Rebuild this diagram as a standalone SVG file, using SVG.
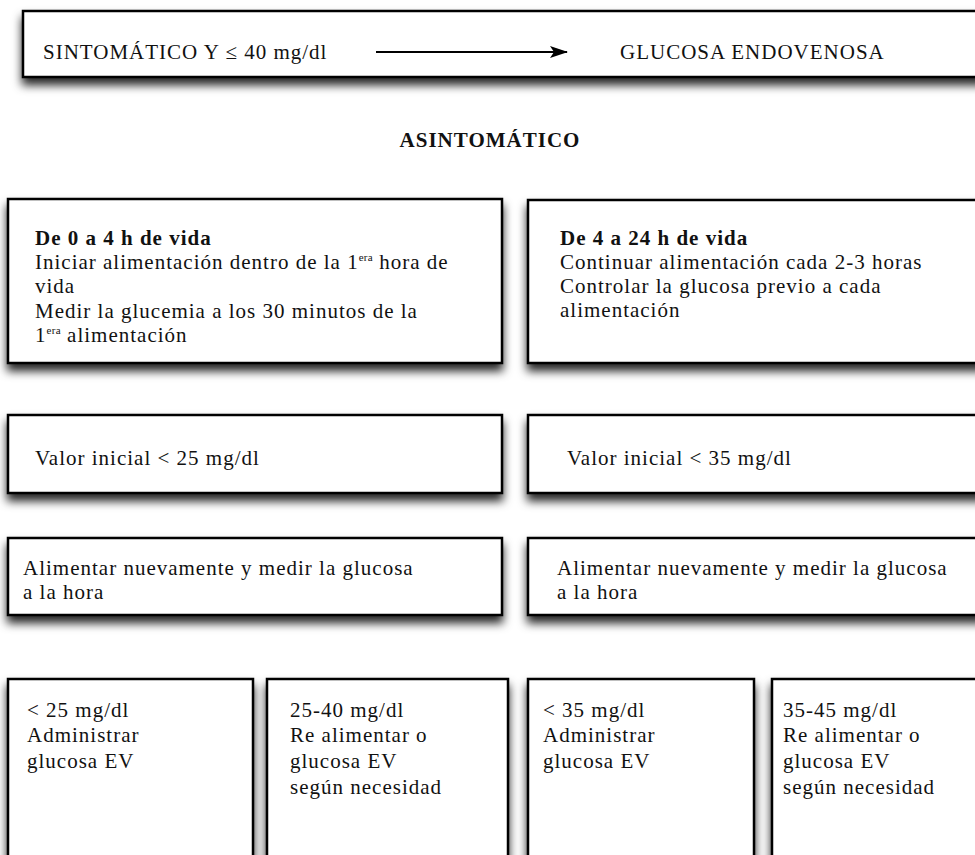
<svg xmlns="http://www.w3.org/2000/svg" width="975" height="855" viewBox="0 0 975 855">
<style>
  .box { fill: #fff; stroke: #000; stroke-width: 2.5; filter: url(#sh); }
  text { font-family: "Liberation Serif", "DejaVu Serif", serif; font-size: 21px; letter-spacing: 1px; fill: #111; }
  .b { font-weight: bold; }
  .sup { font-size: 11px; letter-spacing: 0.3px; }
  .conn { stroke: #000; stroke-width: 2; fill: none; }
</style>
<defs>
  <filter id="sh" x="-10%" y="-20%" width="120%" height="160%">
    <feDropShadow dx="0" dy="7" stdDeviation="5" flood-color="#000" flood-opacity="0.85"/>
  </filter>
  <marker id="ah" markerWidth="18" markerHeight="12" refX="17" refY="6" orient="auto" markerUnits="userSpaceOnUse">
    <path d="M0,0 L18,6 L0,12 L4,6 Z" fill="#000"/>
  </marker>
</defs>
<rect width="975" height="855" fill="#fff"/>

<g id="n-sintomatico">
  <rect class="box" x="23" y="11" width="965" height="66"/>
  <text x="43" y="59">SINTOMÁTICO Y ≤ 40 mg/dl</text>
  <text x="620" y="59">GLUCOSA ENDOVENOSA</text>
</g>

<g id="connectors">
  <line class="conn" x1="376" y1="52" x2="567" y2="52" marker-end="url(#ah)"/>
</g>

<g id="n-asintomatico">
  <text class="b" x="490" y="147" text-anchor="middle">ASINTOMÁTICO</text>
</g>

<g id="n-0a4">
  <rect class="box" x="8" y="199" width="494" height="164"/>
  <text class="b" x="35" y="245">De 0 a 4 h de vida</text>
  <text x="35" y="269">Iniciar alimentación dentro de la 1<tspan class="sup" dy="-8">era</tspan><tspan dy="8"> hora de</tspan></text>
  <text x="35" y="293">vida</text>
  <text x="35" y="318">Medir la glucemia a los 30 minutos de la</text>
  <text x="35" y="342">1<tspan class="sup" dy="-8">era</tspan><tspan dy="8"> alimentación</tspan></text>
</g>

<g id="n-4a24">
  <rect class="box" x="528" y="200" width="460" height="163"/>
  <text class="b" x="560" y="245">De 4 a 24 h de vida</text>
  <text x="560" y="269">Continuar alimentación cada 2-3 horas</text>
  <text x="560" y="293">Controlar la glucosa previo a cada</text>
  <text x="560" y="317">alimentación</text>
</g>

<g id="n-valor25">
  <rect class="box" x="8" y="415" width="494" height="78"/>
  <text x="35" y="465">Valor inicial &lt; 25 mg/dl</text>
</g>

<g id="n-valor35">
  <rect class="box" x="528" y="415" width="460" height="78"/>
  <text x="567" y="465">Valor inicial &lt; 35 mg/dl</text>
</g>

<g id="n-alimentar1">
  <rect class="box" x="8" y="538" width="494" height="77"/>
  <text x="23" y="575">Alimentar nuevamente y medir la glucosa</text>
  <text x="23" y="599">a la hora</text>
</g>

<g id="n-alimentar2">
  <rect class="box" x="528" y="538" width="460" height="77"/>
  <text x="557" y="575">Alimentar nuevamente y medir la glucosa</text>
  <text x="557" y="599">a la hora</text>
</g>

<g id="n-lt25">
  <rect class="box" x="8" y="679" width="245" height="200"/>
  <text x="27" y="717">&lt; 25 mg/dl</text>
  <text x="27" y="742">Administrar</text>
  <text x="27" y="768">glucosa EV</text>
</g>

<g id="n-25a40">
  <rect class="box" x="267" y="679" width="241" height="200"/>
  <text x="290" y="717">25-40 mg/dl</text>
  <text x="290" y="742">Re alimentar o</text>
  <text x="290" y="768">glucosa EV</text>
  <text x="290" y="794">según necesidad</text>
</g>

<g id="n-lt35">
  <rect class="box" x="528" y="679" width="226" height="200"/>
  <text x="543" y="717">&lt; 35 mg/dl</text>
  <text x="543" y="742">Administrar</text>
  <text x="543" y="768">glucosa EV</text>
</g>

<g id="n-35a45">
  <rect class="box" x="772" y="679" width="216" height="200"/>
  <text x="783" y="717">35-45 mg/dl</text>
  <text x="783" y="742">Re alimentar o</text>
  <text x="783" y="768">glucosa EV</text>
  <text x="783" y="794">según necesidad</text>
</g>
</svg>
